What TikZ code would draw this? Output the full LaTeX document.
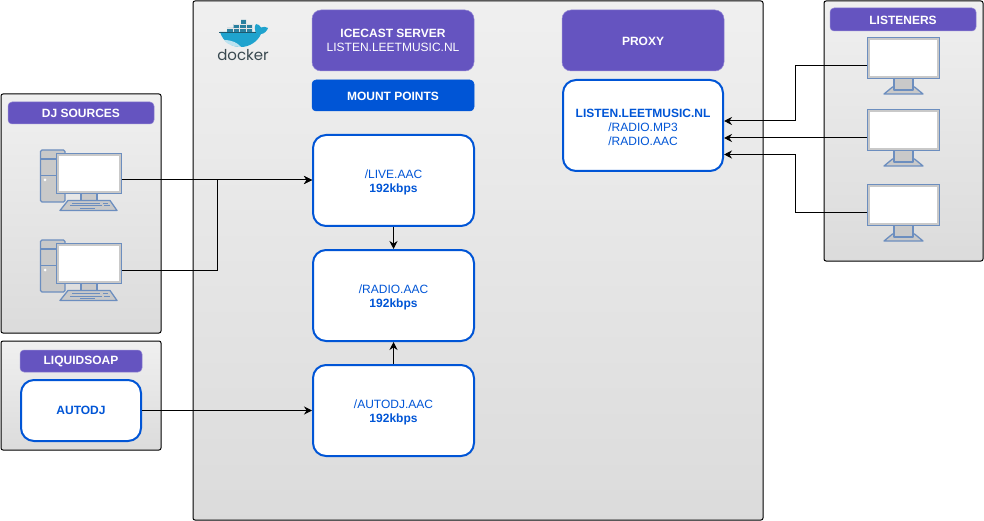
\documentclass[tikz,border=0pt]{standalone}
\usepackage{fontspec}
\setmainfont{Liberation Sans}
\newfontfamily\dockerfont{Poppins}
\usepackage{tikz}
\usetikzlibrary{arrows.meta,calc,positioning}
\definecolor{violetbox}{HTML}{6554C0}
\definecolor{bluebox}{HTML}{0055D6}
\definecolor{pcline}{HTML}{6C8EBF}
\definecolor{pcfill}{HTML}{C9C9C9}
\definecolor{whaledark}{HTML}{2A7F9E}
\definecolor{whalelight}{HTML}{1FA3CE}
\definecolor{whaleword}{HTML}{394950}
\newcommand{\firstline}{\rule{0pt}{11.5pt}}
\tikzset{
  panel/.style={draw=black,line width=1pt,rounded corners=2pt,top color=black!6,bottom color=black!14,
    minimum width=#1,inner sep=0pt},
  header/.style={fill=violetbox,draw=violetbox!70!white,line width=0.5pt,rounded corners=4pt,text=white,
    font=\fontsize{12}{14}\selectfont\bfseries,inner sep=0pt,minimum width=#1,minimum height=22pt,align=center,
    execute at begin node=\rule{0pt}{10pt}},
  bigheader/.style={header=162pt,rounded corners=9pt,minimum height=61pt},
  mount/.style={draw=bluebox,line width=2pt,fill=white,rounded corners=13pt,text=bluebox,
    font=\fontsize{12}{14}\selectfont,inner sep=0pt,minimum width=161pt,minimum height=91pt,align=center},
  link/.style={draw=black,line width=1pt,-{Stealth[length=8pt,width=8pt]}},
  screen/.style={draw=pcline,line width=1.3pt,fill=white,inner sep=0pt,minimum width=64pt,minimum height=39pt},
  pcpart/.style={draw=pcline,line width=1.3pt,fill=pcfill,line join=round},
  pics/desktop/.style={code={
    \draw[pcpart,rounded corners=1.5pt] (-16.5,-23.5) rectangle (8,28.5);
    \draw[pcline,line width=1.3pt] (-16.5,-14.5) -- (8,-14.5) (-16.5,2) -- (8,2);
    \fill[white] (-12,6.5) circle (1.5pt);
    \draw[pcpart] (24,19.5) rectangle (40,27);
    \draw[pcpart] (3,37) -- (11,27) -- (53,27) -- (60,37) -- cycle;
    \draw[pcline,line width=1pt] (15,30) -- (43,30) (46,30) -- (51,30) (13,32.5) -- (45,32.5) (47,32.5) -- (53,32.5) (23,35) -- (38,35);
    \node[screen] (-screen) at (32,0) {};
    \draw[pcfill,line width=1.5pt] ($(-screen.north west)+(1.5,1.5)$) rectangle ($(-screen.south east)+(-1.5,-1.5)$);
    \coordinate (-out) at (-screen.east |- 0,6.5);
  }},
  pics/monitor/.style={code={
    \draw[pcpart] (-19.5,36) -- (-11,29) -- (11,29) -- (19.5,36) -- cycle;
    \draw[pcpart] (-9.5,20) rectangle (9.5,32);
    \node[screen,minimum width=71pt,minimum height=40pt] (-screen) at (0,0) {};
    \draw[pcfill,line width=1.5pt] ($(-screen.north west)+(1.5,1.5)$) rectangle ($(-screen.south east)+(-1.5,-1.5)$);
    \coordinate (-out) at (-screen.west |- 0,8);
  }}
}
\begin{document}
\begin{tikzpicture}[x=1pt,y=-1pt]
  \useasboundingbox (0,0) rectangle (984,521);
  \node[panel=570pt,minimum height=519pt] (server) at (478,260.5) {};
  \node[panel=160pt,minimum height=239pt] (djpanel) at (81,213.5) {};
  \node[panel=160pt,minimum height=109pt] (liquidpanel) at (81,395.5) {};
  \node[panel=159pt,minimum height=260pt] (listenpanel) at (903.5,131) {};

  \node[header=146pt] (djhead) at (81,113) {DJ SOURCES};
  \node[header=122pt] (liquidhead) at (81,361) {LIQUIDSOAP};
  \node[header=146pt,minimum height=23pt] (listenhead) at (903,19.5) {LISTENERS};

  \node[bigheader] (icecast) at (393,40.5) {ICECAST SERVER\\\mdseries LISTEN.LEETMUSIC.NL};
  \node[header=162pt,fill=bluebox,draw=bluebox,minimum height=31pt] (mountpoints) at (393,95.5) {MOUNT POINTS};
  \node[bigheader] (proxy) at (643,40.5) {PROXY};

  \node[mount] (live) at (393.5,180.5) {\firstline/LIVE.AAC\\\bfseries 192kbps};
  \node[mount,below=22pt of live] (radio) {\firstline/RADIO.AAC\\\bfseries 192kbps};
  \node[mount,below=22pt of radio] (autodj) {\firstline/AUTODJ.AAC\\\bfseries 192kbps};
  \node[mount,minimum width=160pt] (relay) at (643,125.5) {\firstline\bfseries LISTEN.LEETMUSIC.NL\\\mdseries /RADIO.MP3\\/RADIO.AAC};
  \node[mount,minimum width=120pt,minimum height=61pt] (autodjsrc) at (81,410.5) {\bfseries AUTODJ};

  \pic (dj1) at (57,173.5) {desktop};
  \pic (dj2) at (57,263.5) {desktop};
  \pic (lis1) at (903.5,58) {monitor};
  \pic (lis2) at (903.5,130) {monitor};
  \pic (lis3) at (903.5,205) {monitor};

  \coordinate (djjoin) at (217,180);
  \draw[link] (dj1-out) -- (live.west |- dj1-out);
  \draw[link] (dj2-out) -| (djjoin) -- (live.west |- dj1-out);
  \draw[link] (autodjsrc.east) -- (autodj.west |- autodjsrc.east);
  \draw[link] (live) -- (radio);
  \draw[link] (autodj) -- (radio);
  \draw[link] (lis1-out) -- ++(-72,0) |- ($(relay.east)+(0,-4.5)$);
  \draw[link] (lis2-out) -- (relay.east |- lis2-out);
  \draw[link] (lis3-out) -- ++(-72,0) |- ($(relay.east)+(0,29)$);

  \fill[whaledark] (241,20) rectangle (246,24.5) (233.5,24.5) rectangle (252,28) (227,28) rectangle (252,32);
  \draw[black!10,line width=0.4pt] (233.5,24.5) -- (252,24.5) (227,28) -- (252,28) (239.5,24.5) -- (239.5,32) (246,20) -- (246,32) (233.5,28) -- (233.5,32);
  \fill[whalelight] (220,32) .. controls (223,42) and (232,47) .. (241,47) .. controls (250,47) and (258,41) .. (261,34)
    .. controls (264,34) and (267,31) .. (268,28) .. controls (266,26.5) and (263,26.5) .. (261,27.5)
    .. controls (260,25.5) and (258,24) .. (256,24) .. controls (254,27) and (255,30) .. (255.5,32) -- cycle;
  \fill[white!70!whalelight] (224,40) .. controls (228,45) and (234,47) .. (241,47) .. controls (238,43) and (232,40) .. (224,40) -- cycle;
  \draw[whaledark!70!black,line width=0.8pt] (219,32.5) -- (256,32.5);
  \node[text=whaleword,font=\dockerfont\fontsize{15}{15}\selectfont,inner sep=0pt] (dockerword) at (243,55) {docker};
\end{tikzpicture}
\end{document}
